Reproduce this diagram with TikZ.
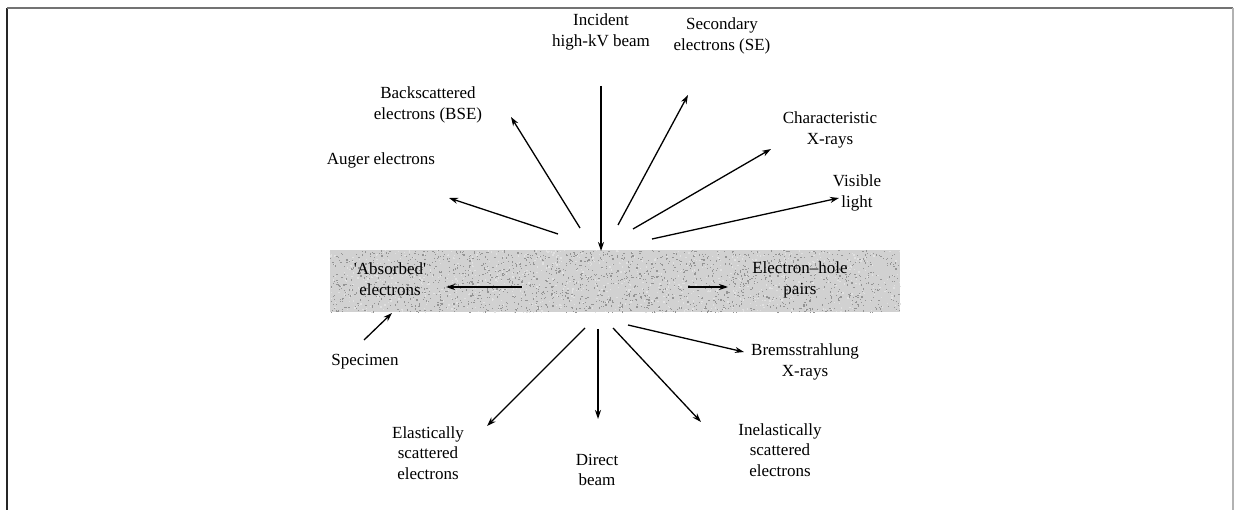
\documentclass[tikz,border=0pt]{standalone}
\usepackage{fontspec}
\setmainfont{Liberation Serif}
\usetikzlibrary{arrows.meta}
\tikzset{
  lbl/.style={align=center, inner sep=0pt, font=\fontsize{17}{20.5}\selectfont},
  ray/.style={line width=1.3pt, -{Stealth[length=9pt,width=6pt]}},
}
\begin{document}
\begin{tikzpicture}[x=1pt,y=-1pt]
\useasboundingbox (0,0) rectangle (1234,510);
% frame
\draw[line width=2pt, black!85] (7,510) -- (7,8);
\draw[line width=1.5pt, black!55] (7,8) -- (1233,8);
\draw[line width=1.5pt, black!30] (1233,8) -- (1233,510);
% specimen band
\fill[black!18] (330,250) rectangle (900,312);
\pgfmathsetseed{7}
\foreach \i in {1,...,1800}{
  \pgfmathsetmacro{\px}{330+570*rnd}
  \pgfmathsetmacro{\py}{250+62*rnd}
  \fill[black!42] (\px,\py) rectangle ++(1.2,1.2);
}
\foreach \i in {1,...,900}{
  \pgfmathsetmacro{\px}{330+570*rnd}
  \pgfmathsetmacro{\py}{250+62*rnd}
  \fill[white!88!black] (\px,\py) rectangle ++(1.3,1.3);
}
% labels
\node[lbl] (inc) at (601,32) {Incident\\high-kV beam};
\node[lbl] (se) at (722,36) {Secondary\\electrons (SE)};
\node[lbl] (bse) at (428,105) {Backscattered\\electrons (BSE)};
\node[lbl] (char) at (830,130) {Characteristic\\X-rays};
\node[lbl] (aug) at (381,160) {Auger electrons};
\node[lbl] (vis) at (857,193) {Visible\\light};
\node[lbl] (abs) at (390,279) {\textquotesingle Absorbed\textquotesingle\\electrons};
\node[lbl] (eh) at (800,280) {Electron--hole\\pairs};
\node[lbl] (spec) at (365,362) {Specimen};
\node[lbl] (brem) at (805,362) {Bremsstrahlung\\X-rays};
\node[lbl] (ela) at (428,453) {Elastically\\scattered\\electrons};
\node[lbl] (dir) at (597,470) {Direct\\beam};
\node[lbl] (ine) at (780,450) {Inelastically\\scattered\\electrons};
% arrow end points
\coordinate (incS) at (601,86);   \coordinate (incE) at (601,251);
\coordinate (seS) at (618,225);   \coordinate (seE) at (688,95);
\coordinate (bseS) at (580,228);  \coordinate (bseE) at (511,117);
\coordinate (chS) at (633,229);   \coordinate (chE) at (771,149);
\coordinate (auS) at (558,234);   \coordinate (auE) at (449,198);
\coordinate (viS) at (652,239);   \coordinate (viE) at (839,198);
\coordinate (abS) at (522,287);   \coordinate (abE) at (446,287);
\coordinate (ehS) at (688,287);   \coordinate (ehE) at (728,287);
\coordinate (spS) at (364,340);   \coordinate (spE) at (392,313);
\coordinate (brS) at (628,325);   \coordinate (brE) at (744,352);
\coordinate (elS) at (585,328);   \coordinate (elE) at (487,426);
\coordinate (diS) at (598,329);   \coordinate (diE) at (598,419);
\coordinate (inS) at (613,328);   \coordinate (inE) at (701,422);
% arrows
\draw[ray] (incS) -- (incE);
\draw[ray] (seS) -- (seE);
\draw[ray] (bseS) -- (bseE);
\draw[ray] (chS) -- (chE);
\draw[ray] (auS) -- (auE);
\draw[ray] (viS) -- (viE);
\draw[ray] (abS) -- (abE);
\draw[ray] (ehS) -- (ehE);
\draw[ray] (spS) -- (spE);
\draw[ray] (brS) -- (brE);
\draw[ray] (elS) -- (elE);
\draw[ray] (diS) -- (diE);
\draw[ray] (inS) -- (inE);
\end{tikzpicture}
\end{document}
